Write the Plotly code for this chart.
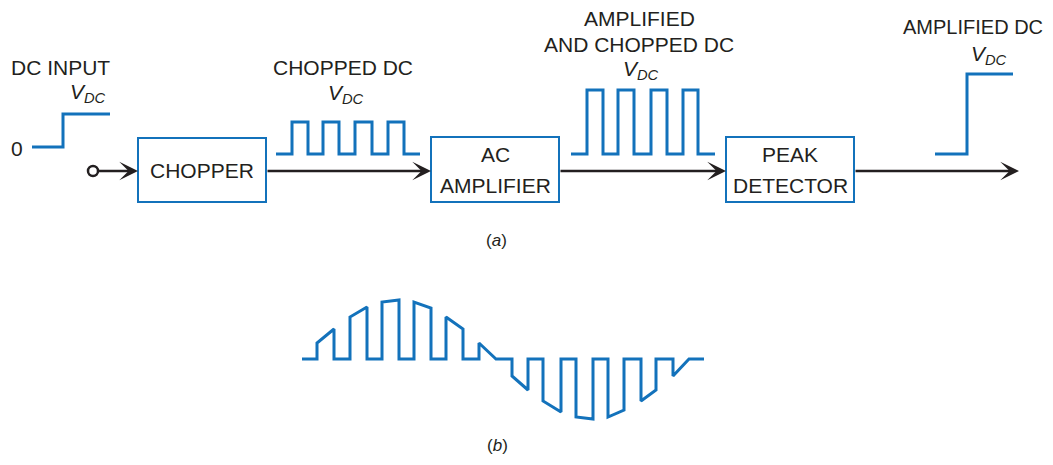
import plotly.graph_objects as go

BLUE = "#1372bb"
INK = "#231f20"
FONT = "Liberation Sans, Arial, sans-serif"

# ---- diagram data (drawing units = reference pixels, y downwards) ----
# blocks: label lines, x0, x1, y0, y1
block_names = ["CHOPPER", "AC|AMPLIFIER", "PEAK|DETECTOR"]
block_x0 = [138, 431, 726]
block_x1 = [266, 559, 854]
block_y0 = [138, 137, 137]
block_y1 = [202, 202, 202]

# signal path arrows (tail x, head x) along signal line
signal_y = 171
arrow_tail = [97, 266, 559, 854]
arrow_head = [138, 431, 726, 1019]
input_node = (93, 171)

# waveform (a) sketches
dc_in_x = [32, 63, 63, 110]
dc_in_y = [147, 147, 114, 114]

chop_x = [276, 292, 292, 308, 308, 323, 323, 339, 339, 355, 355, 372, 372, 388, 388, 404, 404, 420]
chop_y = [154, 154, 122, 122, 154, 154, 122, 122, 154, 154, 122, 122, 154, 154, 122, 122, 154, 154]

amp_x = [571, 587, 587, 603, 603, 618, 618, 634, 634, 651, 651, 667, 667, 683, 683, 698, 698, 715]
amp_y = [154, 154, 90, 90, 154, 154, 90, 90, 154, 154, 90, 90, 154, 154, 90, 90, 154, 154]

dc_out_x = [935, 967, 967, 1013]
dc_out_y = [154, 154, 74, 74]

# waveform (b): chopped sine
wave_x = [302, 317, 317, 334, 334, 350, 350, 367, 367, 382, 382, 399, 399, 414, 414, 431, 431,
          446, 446, 463, 463, 479, 479, 496, 512, 512, 528, 528, 543, 543, 561, 561, 576, 576,
          593, 593, 608, 608, 624, 624, 641, 641, 656, 656, 673, 673, 689, 704]
wave_y = [359, 359, 343, 329, 359, 359, 317, 307, 359, 359, 302, 300, 359, 359, 302, 308, 359,
          359, 317, 329, 359, 359, 343, 359, 359, 376, 390, 359, 359, 401, 412, 359, 359, 417,
          419, 359, 359, 417, 410, 359, 359, 401, 390, 359, 359, 376, 359, 359]

# labels: text, x, y, size
VDC = "<i>V</i><sub><i>DC</i></sub>"
label_text = ["DC INPUT", VDC, "0", "CHOPPED DC", VDC, "AMPLIFIED", "AND CHOPPED DC", VDC,
              "AMPLIFIED DC", VDC, "(<i>a</i>)", "(<i>b</i>)"]
label_x = [60, 88, 17, 343, 346, 639, 639, 641, 973, 989, 496, 497]
label_y = [67, 93, 148, 67, 94, 18, 44, 70, 27, 55, 240, 445]
label_size = [21, 21, 21, 21, 21, 21, 21, 21, 20, 21, 17, 17]

# page has an 8px body margin; shift view so picture pixels line up with reference
PAGE_OFFSET = 8
W, H = 1053, 465

fig = go.Figure()

for xs, ys in [(dc_in_x, dc_in_y), (chop_x, chop_y), (amp_x, amp_y), (dc_out_x, dc_out_y), (wave_x, wave_y)]:
    fig.add_trace(go.Scatter(x=xs, y=ys, mode="lines", line=dict(color=BLUE, width=3),
                             hoverinfo="skip", showlegend=False))

# signal arrows
for t, h in zip(arrow_tail, arrow_head):
    fig.add_annotation(x=h, y=signal_y, ax=t, ay=signal_y, xref="x", yref="y", axref="x", ayref="y",
                       text="", showarrow=True, arrowhead=3, arrowsize=1.2, arrowwidth=2.6,
                       arrowcolor=INK, standoff=0, startstandoff=0)

# input node circle
fig.add_trace(go.Scatter(x=[input_node[0]], y=[input_node[1]], mode="markers",
                         marker=dict(symbol="circle", size=10, color="white",
                                     line=dict(color=INK, width=2.5)),
                         hoverinfo="skip", showlegend=False))

# blocks
for name, x0, x1, y0, y1 in zip(block_names, block_x0, block_x1, block_y0, block_y1):
    fig.add_shape(type="rect", x0=x0, x1=x1, y0=y0, y1=y1, xref="x", yref="y",
                  line=dict(color=BLUE, width=2), fillcolor="white", layer="above")
    lines = name.split("|")
    cx = (x0 + x1) / 2
    if len(lines) == 1:
        ys = [(y0 + y1) / 2]
    else:
        ys = [(y0 + y1) / 2 - 15, (y0 + y1) / 2 + 16]
    for ln, yy in zip(lines, ys):
        fig.add_annotation(x=cx, y=yy, xref="x", yref="y", text=ln, showarrow=False,
                           font=dict(family=FONT, size=21, color=INK))

for t, x, y, s in zip(label_text, label_x, label_y, label_size):
    fig.add_annotation(x=x, y=y, xref="x", yref="y", text=t, showarrow=False,
                       font=dict(family=FONT, size=s, color=INK))

fig.update_layout(
    width=W - 2 * PAGE_OFFSET, height=H - 2 * PAGE_OFFSET, margin=dict(l=0, r=0, t=0, b=0),
    paper_bgcolor="white", plot_bgcolor="white",
    xaxis=dict(range=[PAGE_OFFSET, W - PAGE_OFFSET], visible=False, fixedrange=True),
    yaxis=dict(range=[H - PAGE_OFFSET, PAGE_OFFSET], visible=False, fixedrange=True),
)

fig.write_html("out.html")
